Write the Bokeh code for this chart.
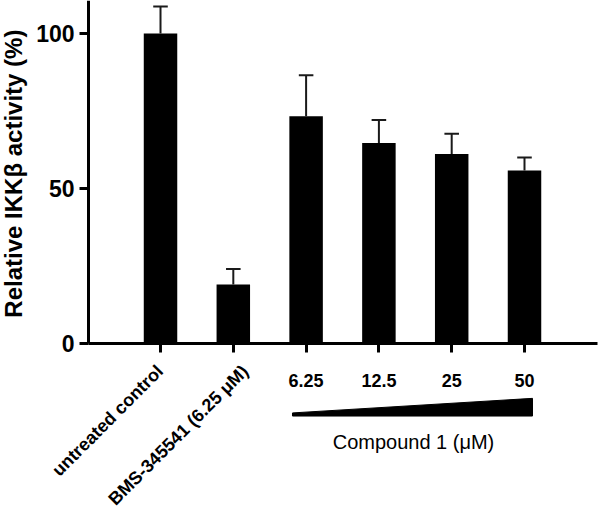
import math
from bokeh.plotting import figure
from bokeh.models import FixedTicker
from bokeh.core.properties import value
from bokeh.embed import file_html
from bokeh.resources import INLINE

# ---- data ----
categories = ["untreated control", "BMS-345541 (6.25 \u03bcM)", "6.25", "12.5", "25", "50"]
activity = [100.0, 19.0, 73.3, 64.7, 61.1, 55.8]
sem = [8.7, 5.0, 13.2, 7.4, 6.6, 4.2]
y_ticks = [0, 50, 100]
y_label = "Relative IKK\u03b2 activity (%)"
group_label = "Compound 1 (\u03bcM)"

FONT = "Liberation Sans"
xs = list(range(len(categories)))

X0, X1 = -2.198, 6.044
Y0, Y1 = -54.52, 110.65
AX_X = -0.989  # where the y axis sits

p = figure(width=600, height=512, output_backend="svg", toolbar_location=None,
           x_range=(X0, X1), y_range=(Y0, Y1),
           min_border_left=0, min_border_right=0, min_border_top=0, min_border_bottom=0)
p.outline_line_color = None
p.grid.visible = False

# bars
p.vbar(x=xs, top=activity, width=0.46, bottom=0, fill_color="black", line_color=None)

# error bars (upper only)
tops = [a + e for a, e in zip(activity, sem)]
p.segment(x0=xs, y0=activity, x1=xs, y1=tops, line_color="#1a1a1a", line_width=2)
p.segment(x0=[x - 0.1 for x in xs], y0=tops, x1=[x + 0.1 for x in xs], y1=tops,
          line_color="#1a1a1a", line_width=2)

# y axis (inside the frame at AX_X)
ya = p.yaxis[0]
ya.fixed_location = AX_X
ya.ticker = FixedTicker(ticks=y_ticks, minor_ticks=[])
ya.bounds = (0, Y1)
ya.axis_line_width = 3
ya.major_tick_line_width = 3
ya.major_tick_out = 9
ya.major_tick_in = 0
ya.minor_tick_out = 0
ya.minor_tick_in = 0
ya.major_label_standoff = 5
ya.major_label_text_font = FONT
ya.major_label_text_font_style = "bold"
ya.major_label_text_font_size = "23px"
ya.major_label_text_color = "black"

# x axis at y=0
xa = p.xaxis[0]
xa.fixed_location = 0
xa.ticker = FixedTicker(ticks=xs, minor_ticks=[])
xa.bounds = (AX_X, 6.003)
xa.major_label_overrides = {i: "" for i in xs}
xa.axis_line_width = 3
xa.major_tick_line_width = 3
xa.major_tick_out = 9
xa.major_tick_in = 0
xa.minor_tick_out = 0
xa.minor_tick_in = 0

txt = dict(text_font=value(FONT), text_color="black")

# y axis title
p.text(x=[-2.019], y=[54.8], text=[y_label], angle=math.pi / 2, text_align="center",
       text_baseline="middle", text_font_style="bold", text_font_size="24px", **txt)

# rotated category labels
rot_dx = [-0.007, 0.163]
rot_y = [-8.0, -8.0]
p.text(x=[xs[i] + rot_dx[i] for i in range(2)], y=rot_y, text=categories[:2],
       angle=math.pi / 4, text_align="right", text_baseline="middle",
       text_font_style="bold", text_font_size="18px", **txt)

# concentration labels
p.text(x=xs[2:], y=[-11.9] * 4, text=categories[2:], text_align="center",
       text_baseline="middle", text_font_style="bold", text_font_size="18px", **txt)

# concentration wedge
wx = [1.813, 1.813, 5.110, 5.110]
wy = [-23.4, -22.4, -17.7, -23.4]
p.patch(wx, wy, fill_color="black", line_color="black", line_width=1)

p.text(x=[3.475], y=[-31.8], text=[group_label], text_align="center",
       text_baseline="middle", text_font_size="20px", **txt)

open("out.html", "w").write(file_html(p, INLINE))
